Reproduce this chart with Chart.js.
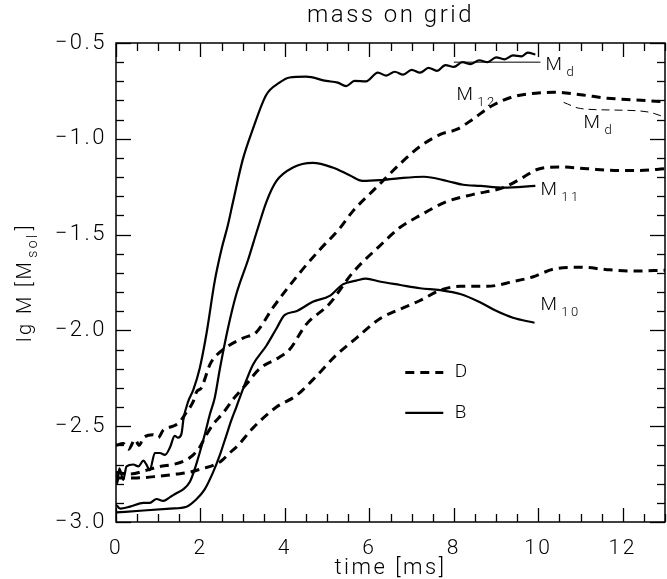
<!DOCTYPE html>
<html>
<head>
<meta charset="utf-8">
<title>mass on grid</title>
<script src="https://cdn.jsdelivr.net/npm/chart.js@4/dist/chart.umd.min.js"></script>
<style>
  html, body { margin: 0; padding: 0; background: #fff; }
  canvas { display: block; }
</style>
</head>
<body>
<canvas id="massChart" width="667" height="579"></canvas>
<script>
// Datos: tiempo [ms] y lg M [Msol]
// Modelo B (líneas continuas)
const tMdB = [0, 0.03, 0.08, 0.17, 0.25, 0.41, 0.53, 0.65, 0.72, 0.8, 0.92, 1.04, 1.16, 1.28, 1.39, 1.47, 1.55, 1.6, 1.71, 1.83, 1.98, 2.14, 2.34, 2.5, 2.65, 2.77, 3.0, 3.24, 3.56, 3.87, 4.11, 4.5, 4.98, 5.25, 5.45, 5.65, 5.92, 6.2, 6.4, 6.6, 6.8, 7.0, 7.2, 7.4, 7.6, 7.8, 8.0, 8.2, 8.4, 8.6, 8.8, 9.0, 9.2, 9.4, 9.6, 9.75, 9.93]
const vMdB = [-2.74, -2.8, -2.72, -2.78, -2.71, -2.7, -2.71, -2.68, -2.7, -2.73, -2.64, -2.64, -2.65, -2.61, -2.55, -2.56, -2.54, -2.46, -2.37, -2.31, -2.2, -2.02, -1.74, -1.575, -1.45, -1.33, -1.11, -0.95, -0.77, -0.707, -0.68, -0.676, -0.698, -0.707, -0.725, -0.698, -0.7, -0.655, -0.67, -0.65, -0.665, -0.64, -0.655, -0.63, -0.645, -0.615, -0.625, -0.6, -0.61, -0.59, -0.6, -0.575, -0.585, -0.565, -0.57, -0.55, -0.56]

const tM11B = [0, 0.1, 0.33, 0.65, 0.8, 0.96, 1.12, 1.28, 1.43, 1.59, 1.75, 1.87, 1.98, 2.1, 2.22, 2.34, 2.46, 2.65, 2.85, 3.13, 3.34, 3.56, 3.8, 4.19, 4.66, 5.13, 5.53, 5.84, 6.24, 6.73, 7.29, 7.84, 8.22, 8.63, 9.17, 9.93]
const vM11B = [-2.91, -2.93, -2.92, -2.9, -2.9, -2.88, -2.89, -2.87, -2.85, -2.83, -2.79, -2.72, -2.64, -2.545, -2.44, -2.35, -2.2, -1.99, -1.81, -1.63, -1.48, -1.33, -1.22, -1.15, -1.126, -1.15, -1.19, -1.22, -1.216, -1.205, -1.198, -1.22, -1.24, -1.246, -1.255, -1.246]

const tM10B = [0, 0.65, 1.28, 1.67, 1.91, 2.1, 2.3, 2.46, 2.61, 2.73, 2.85, 3.0, 3.24, 3.56, 3.8, 3.99, 4.27, 4.66, 5.06, 5.37, 5.69, 5.92, 6.24, 6.73, 7.2, 7.68, 8.15, 8.62, 9.0, 9.4, 9.91]
const vM10B = [-2.95, -2.94, -2.93, -2.92, -2.88, -2.83, -2.74, -2.65, -2.55, -2.47, -2.4, -2.31, -2.18, -2.08, -1.99, -1.92, -1.9, -1.85, -1.82, -1.76, -1.74, -1.73, -1.745, -1.763, -1.78, -1.79, -1.81, -1.853, -1.898, -1.934, -1.96]

// Línea fina Md (B)
const tMdThinB = [8.0, 10.05]
const vMdThinB = [-0.6, -0.6]

// Modelo D (líneas discontinuas)
const tM12D = [0, 0.17, 0.3, 0.45, 0.55, 0.65, 0.88, 1.0, 1.12, 1.35, 1.5, 1.63, 1.83, 1.91, 2.02, 2.22, 2.3, 2.6, 3.01, 3.32, 3.72, 4.35, 4.82, 5.29, 5.6, 6.16, 6.73, 7.2, 7.68, 8.08, 8.46, 8.86, 9.41, 10.05, 10.36, 11.0, 11.63, 12.25, 13.0]
const vM12D = [-2.6, -2.59, -2.62, -2.57, -2.6, -2.56, -2.545, -2.56, -2.52, -2.5, -2.48, -2.44, -2.37, -2.32, -2.3, -2.18, -2.15, -2.09, -2.04, -2.01, -1.88, -1.7, -1.58, -1.47, -1.38, -1.255, -1.13, -1.04, -0.977, -0.95, -0.896, -0.833, -0.78, -0.76, -0.757, -0.77, -0.788, -0.797, -0.806]

const tM11D = [0, 0.33, 0.72, 1.04, 1.35, 1.63, 1.83, 1.98, 2.14, 2.3, 2.54, 2.77, 3.09, 3.4, 3.87, 4.11, 4.5, 5.06, 5.6, 6.24, 6.73, 7.2, 7.84, 8.46, 9.17, 9.65, 9.97, 10.5, 11.16, 11.8, 12.4, 13.0]
const vM11D = [-2.74, -2.75, -2.73, -2.71, -2.7, -2.68, -2.65, -2.61, -2.545, -2.49, -2.43, -2.36, -2.28, -2.2, -2.14, -2.1, -1.97, -1.86, -1.7, -1.56, -1.462, -1.4, -1.327, -1.29, -1.255, -1.2, -1.16, -1.147, -1.156, -1.165, -1.165, -1.156]

const tM10D = [0, 0.49, 1.04, 1.43, 1.75, 2.06, 2.3, 2.5, 2.69, 2.89, 3.24, 3.8, 4.27, 4.74, 5.21, 5.69, 6.24, 6.73, 7.2, 7.68, 8.15, 8.79, 9.41, 9.88, 10.36, 11.0, 11.63, 12.25, 13.0]
const vM10D = [-2.77, -2.77, -2.76, -2.75, -2.74, -2.72, -2.705, -2.68, -2.64, -2.6, -2.51, -2.4, -2.34, -2.24, -2.13, -2.04, -1.94, -1.889, -1.844, -1.79, -1.77, -1.77, -1.745, -1.72, -1.68, -1.67, -1.683, -1.69, -1.686]

// Línea fina Md (D)
const tMdThinD = [10.6, 11.0, 11.8, 12.6, 13.0]
const vMdThinD = [-0.81, -0.842, -0.85, -0.86, -0.887]

// Marcas de los ejes
const xTicks = [0, 2, 4, 6, 8, 10, 12]
const yTicks = [-3.0, -2.5, -2.0, -1.5, -1.0, -0.5]
const xMinorStep = 0.5
const yMinorStep = 0.1

const FONT = 'Roboto, "Liberation Sans", sans-serif'

// Une tiempos y valores en puntos {x, y}
const toPoints = (ts, vs) => ts.map((t, i) => ({ x: t, y: vs[i] }))

const line = (ts, vs, width, dash) => ({
  data: toPoints(ts, vs),
  borderColor: '#000',
  borderWidth: width,
  borderDash: dash || [],
  pointRadius: 0,
  fill: false,
  cubicInterpolationMode: 'monotone',
})

// Texto con subíndice (M_d, M_12 ...)
function drawSub(ctx, x, y, main, sub, size) {
  ctx.font = `300 ${size}px ${FONT}`
  ctx.textAlign = 'left'
  ctx.textBaseline = 'middle'
  ctx.fillText(main, x, y)
  const w = ctx.measureText(main).width
  ctx.font = `300 ${Math.round(size * 0.68)}px ${FONT}`
  ctx.fillText(sub, x + w + 2, y + size * 0.38)
}

// Segmento recto
function seg(ctx, x1, y1, x2, y2) {
  ctx.beginPath()
  ctx.moveTo(x1, y1)
  ctx.lineTo(x2, y2)
  ctx.stroke()
}

// Marco, marcas interiores, títulos, etiquetas y leyenda
const decorPlugin = {
  id: 'decor',
  beforeDraw(chart) {
    chart.ctx.letterSpacing = '2.5px'
  },
  afterDraw(chart) {
    const { ctx, chartArea: a, scales } = chart
    const sx = scales.x
    const sy = scales.y
    ctx.save()
    ctx.strokeStyle = '#000'
    ctx.fillStyle = '#000'
    ctx.setLineDash([])
    ctx.lineWidth = 1.5
    ctx.strokeRect(a.left, a.top, a.right - a.left, a.bottom - a.top)

    // Marcas interiores en los cuatro lados
    ctx.lineWidth = 1.3
    const nY = Math.round((sy.max - sy.min) / yMinorStep)
    for (let i = 0; i <= nY; i++) {
      const v = sy.min + i * yMinorStep
      const py = Math.round(sy.getPixelForValue(v)) + 0.5
      const len = i % 5 === 0 ? 15 : 8
      seg(ctx, a.left, py, a.left + len, py)
      seg(ctx, a.right, py, a.right - len, py)
    }
    const nX = Math.round((sx.max - sx.min) / xMinorStep)
    for (let i = 0; i <= nX; i++) {
      const t = sx.min + i * xMinorStep
      const px = Math.round(sx.getPixelForValue(t)) + 0.5
      const len = i % 4 === 0 ? 14 : 8
      seg(ctx, px, a.bottom, px, a.bottom - len)
      seg(ctx, px, a.top, px, a.top + len)
    }

    // Títulos
    const cx = (a.left + a.right) / 2
    ctx.textAlign = 'center'
    ctx.textBaseline = 'middle'
    ctx.font = `300 24px ${FONT}`
    ctx.fillText('mass on grid', cx, 16)
    ctx.font = `300 22px ${FONT}`
    ctx.fillText('time [ms]', cx, 568)

    ctx.save()
    ctx.translate(26, (a.top + a.bottom) / 2)
    ctx.rotate(-Math.PI / 2)
    ctx.font = `300 20px ${FONT}`
    const t1 = 'lg M ['
    const w1 = ctx.measureText(t1).width
    const w3 = ctx.measureText('M').width
    ctx.font = `300 14px ${FONT}`
    const w2 = ctx.measureText('sol').width
    ctx.font = `300 20px ${FONT}`
    const total = w1 + w3 + w2 + 4 + ctx.measureText(']').width
    let px0 = -total / 2
    ctx.textAlign = 'left'
    ctx.fillText(t1, px0, 0)
    px0 += w1
    drawSub(ctx, px0, 0, 'M', 'sol', 20)
    ctx.font = `300 20px ${FONT}`
    ctx.fillText(']', px0 + w3 + w2 + 4, 0)
    ctx.restore()

    // Etiquetas de las curvas
    const lab = (t, v, main, sub) =>
      drawSub(ctx, sx.getPixelForValue(t), sy.getPixelForValue(v), main, sub, 19)
    lab(10.17, -0.615, 'M', 'd')
    lab(8.06, -0.775, 'M', '12')
    lab(11.07, -0.92, 'M', 'd')
    lab(10.05, -1.27, 'M', '11')
    lab(10.05, -1.87, 'M', '10')

    // Leyenda
    ctx.lineWidth = 3
    ctx.setLineDash([9, 6])
    seg(ctx, sx.getPixelForValue(6.85), sy.getPixelForValue(-2.22), sx.getPixelForValue(7.75), sy.getPixelForValue(-2.22))
    ctx.setLineDash([])
    ctx.lineWidth = 2.2
    seg(ctx, sx.getPixelForValue(6.85), sy.getPixelForValue(-2.43), sx.getPixelForValue(7.75), sy.getPixelForValue(-2.43))
    ctx.font = `300 19px ${FONT}`
    ctx.textAlign = 'left'
    ctx.textBaseline = 'middle'
    ctx.fillText('D', sx.getPixelForValue(8.02), sy.getPixelForValue(-2.22))
    ctx.fillText('B', sx.getPixelForValue(8.02), sy.getPixelForValue(-2.43))
    ctx.restore()
  },
}

const ctx = document.getElementById('massChart').getContext('2d')

new Chart(ctx, {
  type: 'line',
  data: {
    datasets: [
      line(tMdB, vMdB, 2.2),
      line(tM11B, vM11B, 2.2),
      line(tM10B, vM10B, 2.2),
      line(tMdThinB, vMdThinB, 1),
      line(tM12D, vM12D, 3, [9, 6]),
      line(tM11D, vM11D, 3, [9, 6]),
      line(tM10D, vM10D, 3, [9, 6]),
      line(tMdThinD, vMdThinD, 1, [8, 5]),
    ],
  },
  options: {
    responsive: false,
    animation: false,
    devicePixelRatio: 1,
    layout: {
      padding: { top: 43, right: 2, left: 0, bottom: 0 },
    },
    plugins: {
      legend: { display: false },
      tooltip: { enabled: false },
    },
    scales: {
      x: {
        type: 'linear',
        min: 0,
        max: 13,
        afterBuildTicks: (scale) => {
          scale.ticks = xTicks.map((v) => ({ value: v }))
        },
        afterFit: (scale) => {
          scale.height = 57
        },
        grid: { display: false, drawTicks: false },
        border: { display: false },
        ticks: {
          padding: 14,
          color: '#000',
          maxRotation: 0,
          font: { family: FONT, size: 21, weight: 300 },
          callback: (v) => String(v),
        },
      },
      y: {
        type: 'linear',
        min: -3,
        max: -0.5,
        afterBuildTicks: (scale) => {
          scale.ticks = yTicks.map((v) => ({ value: v }))
        },
        afterFit: (scale) => {
          scale.width = 116
        },
        grid: { display: false, drawTicks: false },
        border: { display: false },
        ticks: {
          padding: 9,
          color: '#000',
          font: { family: FONT, size: 22, weight: 300 },
          callback: (v) => '\u2212' + Math.abs(v).toFixed(1),
        },
      },
    },
  },
  plugins: [decorPlugin],
})
</script>
</body>
</html>
